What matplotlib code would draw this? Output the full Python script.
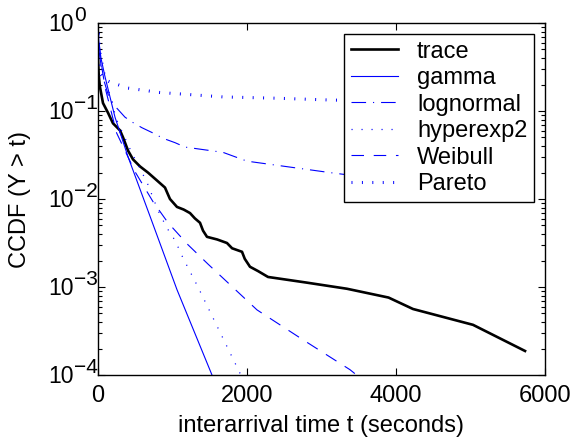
import matplotlib
matplotlib.use("Agg")
import matplotlib.pyplot as plt
import matplotlib.transforms as mtransforms
import numpy as np

plt.rcParams['font.family'] = ['Liberation Sans', 'DejaVu Sans']
plt.rcParams['lines.scale_dashes'] = False

# ---- data (t in seconds, values as log10 of CCDF) ----
trace_t = [0, 10, 27, 67, 134, 201, 295, 336, 403, 470, 564, 671, 792, 899, 940, 966,
           1060, 1150, 1235, 1300, 1369, 1410, 1463, 1600, 1731, 1800, 1933, 1970,
           2040, 2150, 2282, 2800, 3342, 3900, 4228, 5034, 5732]
trace_log = [-0.40, -0.60, -0.73, -0.91, -1.02, -1.14, -1.22, -1.30, -1.45, -1.55, -1.63,
             -1.70, -1.79, -1.87, -1.95, -2.00, -2.09, -2.12, -2.16, -2.22, -2.27, -2.36,
             -2.43, -2.46, -2.50, -2.56, -2.60, -2.68, -2.77, -2.82, -2.886, -2.95,
             -3.02, -3.12, -3.25, -3.43, -3.727]

gamma_t = [0, 10, 40, 94, 228, 403, 700, 1060, 1530, 1600]
gamma_log = [0.0, -0.20, -0.40, -0.61, -1.07, -1.52, -2.20, -3.03, -4.00, -4.15]

lognormal_t = [0, 20, 60, 150, 255, 362, 456, 590, 738, 872, 1034, 1168, 1678, 2000,
               3114, 4500, 5732]
lognormal_log = [0.0, -0.35, -0.60, -0.85, -0.97, -1.07, -1.125, -1.19, -1.25, -1.31,
                 -1.36, -1.41, -1.47, -1.57, -1.70, -1.85, -1.96]

hyperexp_t = [0, 40, 120, 250, 456, 658, 805, 926, 1034, 1141, 1275, 1342, 1906, 1950]
hyperexp_log = [0.0, -0.35, -0.70, -1.10, -1.48, -1.81, -2.13, -2.33, -2.47, -2.67,
                -2.89, -3.00, -3.98, -4.05]

weibull_t = [0, 30, 100, 250, 497, 738, 940, 1208, 1477, 2134, 2752, 3383, 3500]
weibull_log = [0.0, -0.40, -0.75, -1.25, -1.69, -2.03, -2.27, -2.52, -2.74, -3.26,
               -3.60, -3.94, -4.02]

pareto_t = [0, 10, 30, 80, 161, 403, 832, 1678, 2403, 3114, 4500, 5732]
pareto_log = [0.0, -0.40, -0.58, -0.64, -0.67, -0.74, -0.79, -0.84, -0.855, -0.875,
              -0.90, -0.915]

labels = ['trace', 'gamma', 'lognormal', 'hyperexp2', 'Weibull', 'Pareto']
xticks = [0, 2000, 4000, 6000]
yexps = [0, -1, -2, -3, -4]

def v(a):
    return 10.0 ** np.asarray(a)

fig = plt.figure(figsize=(5.78, 4.40), dpi=100)
ax = fig.add_axes([98/578, 1-375/440, (545-98)/578, (375-23)/440])

blue = (0, 0, 1)
ax.plot(trace_t, v(trace_log), color='black', lw=1.9, label=labels[0])
ax.plot(gamma_t, v(gamma_log), color=blue, lw=0.8, label=labels[1])
l, = ax.plot(lognormal_t, v(lognormal_log), color=blue, lw=0.8, label=labels[2])
l.set_dashes((10.5, 5.0, 0.8, 5.0))
l, = ax.plot(hyperexp_t, v(hyperexp_log), color=blue, lw=0.9, label=labels[3])
l.set_dashes((0.8, 6.4))
l, = ax.plot(weibull_t, v(weibull_log), color=blue, lw=0.8, label=labels[4])
l.set_dashes((9.0, 7.0))
l, = ax.plot(pareto_t, v(pareto_log), color=blue, lw=2.2, label=labels[5])
l.set_dashes((0.7, 6.8))
l.set_dash_capstyle('butt')

ax.set_yscale('log')
ax.set_xlim(0, 6000)
ax.set_ylim(1e-4, 1)
ax.set_xticks(xticks)
ax.set_xticklabels([str(x) for x in xticks])
ax.set_yticks([10.0 ** e for e in yexps])
ax.set_yticklabels([''] * len(yexps))

fs = 17
ax.tick_params(which='both', direction='in', top=True, right=True, labelsize=fs, width=0.8)
ax.tick_params(which='major', length=5, pad=7)
ax.tick_params(which='minor', length=3)
for s in ax.spines.values():
    s.set_linewidth(1.0)

# y tick labels in MATLAB style: "10" with a near full-size raised exponent
ytr = ax.get_yaxis_transform()
base_tr = mtransforms.offset_copy(ytr, fig=fig, x=-50, y=-8, units='dots')
sup_tr = mtransforms.offset_copy(ytr, fig=fig, x=-24, y=2, units='dots')
for e in yexps:
    ax.text(0, 10.0 ** e, '10', transform=base_tr, ha='left', va='baseline',
            fontsize=16.5, clip_on=False)
    ax.text(0, 10.0 ** e, str(e).replace('-', '\u2212'), transform=sup_tr,
            ha='left', va='baseline', fontsize=15, clip_on=False)

ax.set_xlabel('interarrival time t (seconds)', fontsize=fs, labelpad=6)
ax.set_ylabel('CCDF (Y > t)', fontsize=fs, labelpad=41)

leg = ax.legend(loc='upper right', fontsize=fs, frameon=True, fancybox=False,
                edgecolor='black', framealpha=1, handlelength=2.0, labelspacing=0.19,
                borderaxespad=0.45, handletextpad=0.8, borderpad=0.3)
leg.get_frame().set_linewidth(1.0)

fig.savefig('out.png', dpi=100)
